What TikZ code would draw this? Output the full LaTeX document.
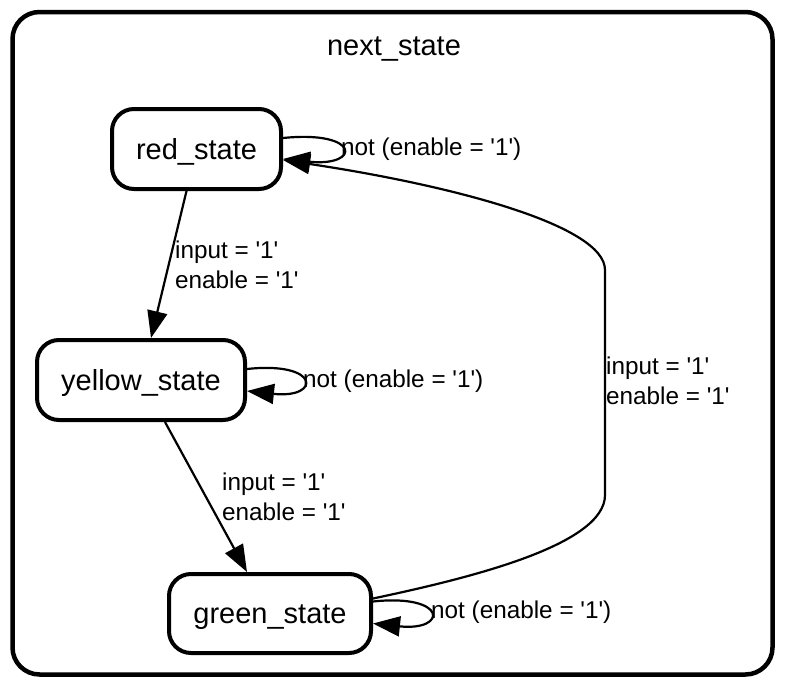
\documentclass[tikz,border=0pt]{standalone}
\usepackage{fontspec}
\setmainfont{Liberation Sans}
\usetikzlibrary{arrows.meta,calc}
\newcommand{\sq}{\textquotesingle}
\begin{document}
\begin{tikzpicture}[x=1pt,y=-1pt,
  statebox/.style={draw,line width=4pt,rounded corners=22pt,inner sep=0pt,text height=25pt,text depth=5pt,font=\fontsize{29}{34}\selectfont},
  edge/.style={line width=2.2pt,-{Triangle[length=27pt,width=20pt]}},
  elabel/.style={inner sep=0pt,anchor=west,align=left,font=\fontsize{24.3}{30}\selectfont}]
\useasboundingbox (0,0) rectangle (785,683);
\draw[line width=4.5pt,rounded corners=27pt] (12.5,12) rectangle (772.5,674.5);
\node[font=\fontsize{29}{34}\selectfont] (title) at (394,49) {next\_state};

\node[statebox,minimum width=169pt,minimum height=80pt] (red) at (196.5,149) {red\_state};
\node[statebox,minimum width=208pt,minimum height=80pt] (yellow) at (141,380) {yellow\_state};
\node[statebox,minimum width=202pt,minimum height=79pt] (green) at (270,613.5) {green\_state};

% self loops
\draw[edge] ($(red.east)+(0,-11)$) .. controls +(78,-8) and +(78,8) .. ($(red.east)+(0,10)$);
\node[elabel] (lr) at (341,149) {not (enable = \sq1\sq)};
\draw[edge] ($(yellow.east)+(0,-11)$) .. controls +(74,-8) and +(74,8) .. ($(yellow.east)+(0,11)$);
\node[elabel] (ly) at (303,381) {not (enable = \sq1\sq)};
\draw[edge] ($(green.east)+(0,-12)$) .. controls +(75,-8) and +(75,8) .. ($(green.east)+(0,10)$);
\node[elabel] (lg) at (431,612) {not (enable = \sq1\sq)};

% transitions
\draw[edge] ($(red.south)+(-10,0)$) -- ($(yellow.north)+(10,0)$);
\node[elabel] (lry) at (175,265) {input = \sq1\sq\\enable = \sq1\sq};
\draw[edge] ($(yellow.south)+(24,0)$) -- ($(green.north)+(-23,0)$);
\node[elabel] (lyg) at (222,496.5) {input = \sq1\sq\\enable = \sq1\sq};
\draw[edge] ($(green.east)+(0,-15)$) .. controls (470,578) and (605,545) .. (605,495) -- (605,270) .. controls (605,225) and (450,185) .. ($(red.east)+(0,11)$);
\node[elabel] (lgr) at (606,380.5) {input = \sq1\sq\\enable = \sq1\sq};
\end{tikzpicture}
\end{document}
